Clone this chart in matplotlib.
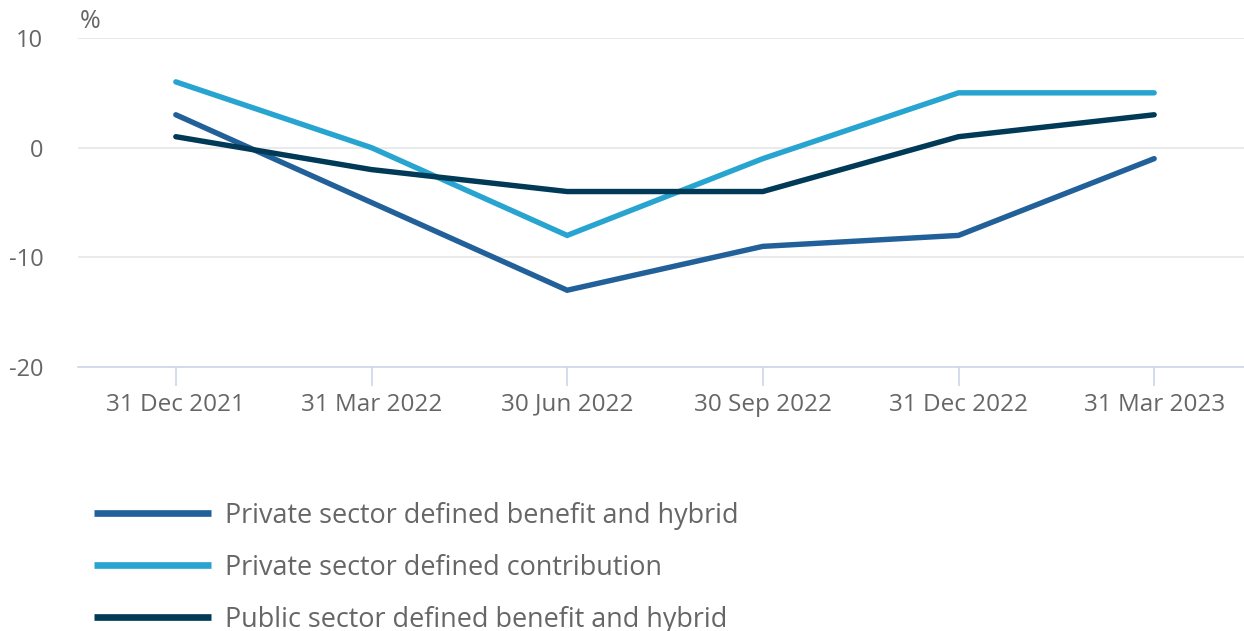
import matplotlib
matplotlib.use("Agg")
import matplotlib.pyplot as plt

categories = ["31 Dec 2021", "31 Mar 2022", "30 Jun 2022", "30 Sep 2022", "31 Dec 2022", "31 Mar 2023"]
private_db = [3, -5, -13, -9, -8, -1]
private_dc = [6, 0, -8, -1, 5, 5]
public_db = [1, -2, -4, -4, 1, 3]
series_names = ["Private sector defined benefit and hybrid",
                "Private sector defined contribution",
                "Public sector defined benefit and hybrid"]
colors = ["#22609a", "#27a4d0", "#003a57"]
yticks = [10, 0, -10, -20]

plt.rcParams['font.family'] = ['Open Sans', 'DejaVu Sans']
W, H = 1244, 631
fig = plt.figure(figsize=(W/100, H/100), dpi=100)
left, right = 78, 1252
top, bottom = 38, 367
ax = fig.add_axes([left/W, 1-bottom/H, (right-left)/W, (bottom-top)/H])

x = list(range(len(categories)))
lines = []
for vals, name, c in zip([private_db, private_dc, public_db], series_names, colors):
    l, = ax.plot(x, vals, color=c, lw=3.9, solid_capstyle='round', solid_joinstyle='miter', label=name, zorder=3)
    lines.append(l)

ax.set_xlim(-0.5, len(categories)-0.5)
ax.set_ylim(-20, 10)
ax.set_yticks(yticks)
ax.set_yticklabels([str(v) for v in yticks])
ax.set_xticks(x)
ax.set_xticklabels(categories)
ax.grid(axis='y', color='#e6e6e6', lw=1.2, zorder=0)
for s in ['top', 'right', 'left']:
    ax.spines[s].set_visible(False)
ax.spines['bottom'].set_color('#ccd6eb')
ax.spines['bottom'].set_linewidth(1.2)
ax.tick_params(axis='y', length=0, pad=25, labelsize=17, labelcolor='#666666')
ax.tick_params(axis='x', length=14, width=1.2, color='#ccd6eb', pad=4.5, labelsize=17.5, labelcolor='#666666')

fig.text(80/W, 1-22/H, "%", fontsize=18, color='#666666', va='center', ha='left')

leg = fig.legend(handles=lines, loc='upper left', bbox_to_anchor=(83/W, 1-491/H),
                 frameon=False, fontsize=19.45, labelcolor='#666666',
                 handlelength=4.33, handletextpad=0.52, labelspacing=0.89, borderaxespad=0)
for lh in leg.get_lines():
    lh.set_linewidth(4.8)
    lh.set_solid_capstyle('butt')

fig.savefig("out.png", dpi=100)
